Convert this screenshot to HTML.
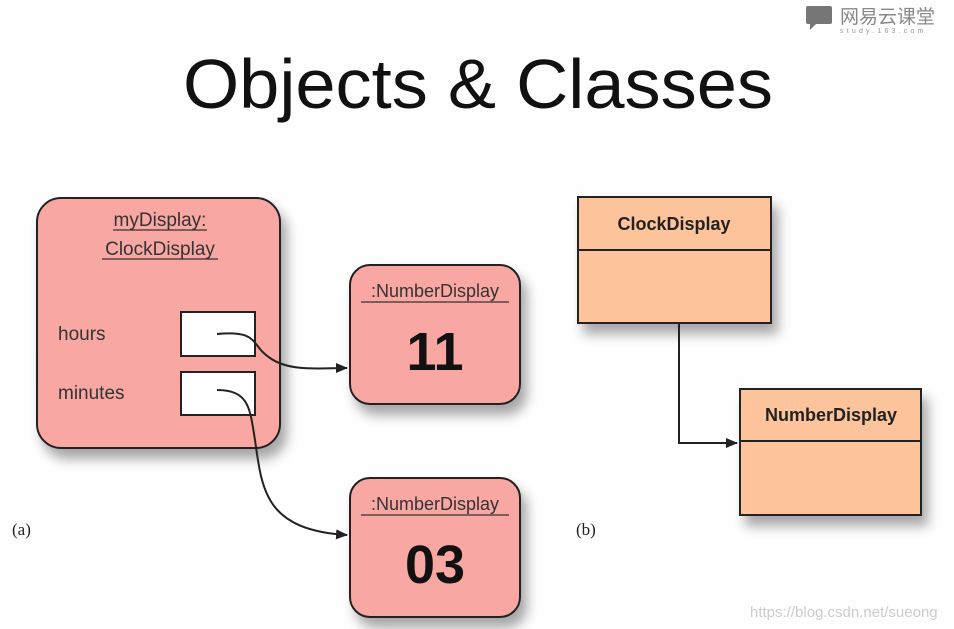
<!DOCTYPE html>
<html><head><meta charset="utf-8"><style>
html,body{margin:0;padding:0;background:#fff;}
svg{display:block}
</style></head><body>
<svg width="954" height="629" viewBox="0 0 954 629" xmlns="http://www.w3.org/2000/svg">
<defs>
<filter id="sh" x="-20%" y="-20%" width="150%" height="150%">
<feGaussianBlur in="SourceAlpha" stdDeviation="6"/>
<feOffset dx="6" dy="10" result="b"/>
<feComponentTransfer><feFuncA type="linear" slope="0.35"/></feComponentTransfer>
<feMerge><feMergeNode/><feMergeNode in="SourceGraphic"/></feMerge>
</filter>
<marker id="ar" markerWidth="12" markerHeight="10" refX="11" refY="5" orient="auto" markerUnits="userSpaceOnUse">
<path d="M0,0 L12,5 L0,10 Z" fill="#222"/>
</marker>
</defs>
<rect width="954" height="629" fill="#fefefe"/>
<rect x="806" y="6" width="26" height="18" rx="2" fill="#777"/>
<path d="M810 24 L810 30 L816 24 Z" fill="#777"/>
<text x="840" y="23" font-family="'Liberation Sans','Noto Sans CJK SC',sans-serif" font-size="19" fill="#888">网易云课堂</text>
<text x="840" y="33" font-family="'Liberation Sans',sans-serif" font-size="7" fill="#999" letter-spacing="3.2">study.163.com</text>
<text x="183" y="108" font-family="'Liberation Sans',sans-serif" font-size="70" fill="#111" textLength="590" lengthAdjust="spacingAndGlyphs">Objects &amp; Classes</text>

<g font-family="'Liberation Sans',sans-serif">
<rect x="37" y="198" width="243" height="250" rx="24" fill="#f9a7a3" stroke="#222" stroke-width="2" filter="url(#sh)"/>
<text x="160" y="226" text-anchor="middle" font-size="19" fill="#333">myDisplay:</text>
<text x="160" y="255" text-anchor="middle" font-size="19" fill="#333">ClockDisplay</text>
<line x1="113" y1="230" x2="207" y2="230" stroke="#333" stroke-width="1.3"/>
<line x1="102" y1="259" x2="218" y2="259" stroke="#333" stroke-width="1.3"/>
<text x="58" y="340" font-size="19" fill="#333">hours</text>
<text x="58" y="399" font-size="19" fill="#333">minutes</text>
<rect x="181" y="312" width="74" height="44" fill="#fff" stroke="#222" stroke-width="2"/>
<rect x="181" y="372" width="74" height="43" fill="#fff" stroke="#222" stroke-width="2"/>

<rect x="350" y="265" width="170" height="139" rx="20" fill="#f9a7a3" stroke="#222" stroke-width="2" filter="url(#sh)"/>
<text x="435" y="297" text-anchor="middle" font-size="18" fill="#333">:NumberDisplay</text>
<line x1="361" y1="302" x2="509" y2="302" stroke="#333" stroke-width="1.3"/>
<text x="435" y="370" text-anchor="middle" font-size="54" font-weight="bold" fill="#111">11</text>

<rect x="350" y="478" width="170" height="139" rx="20" fill="#f9a7a3" stroke="#222" stroke-width="2" filter="url(#sh)"/>
<text x="435" y="510" text-anchor="middle" font-size="18" fill="#333">:NumberDisplay</text>
<line x1="361" y1="515" x2="509" y2="515" stroke="#333" stroke-width="1.3"/>
<text x="435" y="583" text-anchor="middle" font-size="54" font-weight="bold" fill="#111">03</text>

<path d="M217 334 C260 330 250 345 270 358 C290 372 320 368 347 368" fill="none" stroke="#222" stroke-width="2" marker-end="url(#ar)"/>
<path d="M217 390 C250 390 250 410 255 440 C262 490 265 530 347 535" fill="none" stroke="#222" stroke-width="2" marker-end="url(#ar)"/>
</g>
<text x="12" y="535" font-family="'Liberation Serif',serif" font-size="17" fill="#222">(a)</text>

<g font-family="'Liberation Sans',sans-serif">
<rect x="578" y="197" width="193" height="126" fill="#fdc49c" stroke="#222" stroke-width="2" filter="url(#sh)"/>
<line x1="578" y1="250" x2="771" y2="250" stroke="#222" stroke-width="2"/>
<text x="674" y="230" text-anchor="middle" font-size="18" font-weight="bold" fill="#222">ClockDisplay</text>
<rect x="740" y="389" width="181" height="126" fill="#fdc49c" stroke="#222" stroke-width="2" filter="url(#sh)"/>
<line x1="740" y1="441" x2="921" y2="441" stroke="#222" stroke-width="2"/>
<text x="831" y="421" text-anchor="middle" font-size="18" font-weight="bold" fill="#222">NumberDisplay</text>
<path d="M679 323 L679 443 L737 443" fill="none" stroke="#222" stroke-width="2" marker-end="url(#ar)"/>
</g>
<text x="576" y="535" font-family="'Liberation Serif',serif" font-size="17" fill="#222">(b)</text>
<text x="750" y="617" font-family="'Liberation Sans',sans-serif" font-size="15" fill="#ccc">https://blog.csdn.net/sueong</text>
</svg>
</body></html>
